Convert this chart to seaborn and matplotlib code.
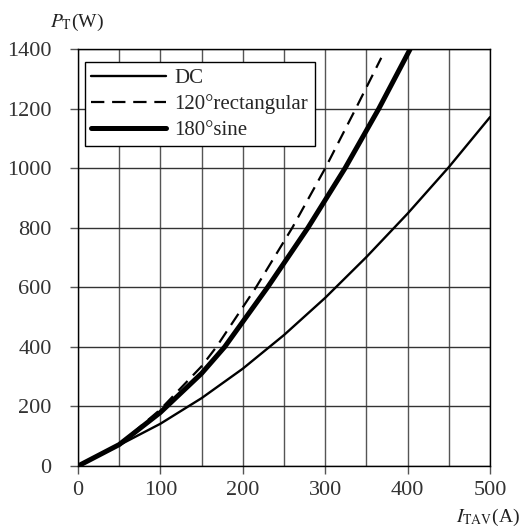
import numpy as np
import pandas as pd
import matplotlib
matplotlib.use("Agg")
import matplotlib.pyplot as plt
import seaborn as sns

# Values (I_TAV in A, P_T in W)
dc_i = [0, 50, 100, 150, 200, 250, 300, 350, 400, 450, 500]
dc_p = [0, 70, 142, 228, 327, 440, 565, 702, 848, 1004, 1172]

rect_i = [0, 50, 100, 150, 168, 216, 260, 300, 337, 368]
rect_p = [0, 72, 190, 335, 400, 600, 800, 1000, 1200, 1371]

sine_i = [0, 50, 100, 150, 178, 230, 279, 324, 365, 403]
sine_p = [0, 72, 180, 311, 400, 600, 800, 1000, 1200, 1400]

labels = ["DC", "120°rectangular", "180°sine"]

sns.set_theme(style="white")
plt.rcParams['font.family'] = ['Liberation Serif', 'DejaVu Serif']
plt.rcParams['mathtext.fontset'] = 'stix'

fig = plt.figure(figsize=(5.23, 5.29), dpi=100)
ax = fig.add_axes([0.149, 0.119, 0.788, 0.788])

sns.lineplot(x=dc_i, y=dc_p, ax=ax, color="black", linewidth=1.7, label=labels[0])
sns.lineplot(x=rect_i, y=rect_p, ax=ax, color="black", linewidth=1.6,
             linestyle=(0, (6, 3.5)), label=labels[1])
sns.lineplot(x=sine_i, y=sine_p, ax=ax, color="black", linewidth=3.6, label=labels[2])

ax.set_xlim(0, 500)
ax.set_ylim(0, 1400)
ax.set_xticks(np.arange(0, 501, 100))
ax.set_xticks(np.arange(50, 500, 100), minor=True)
ax.set_yticks(np.arange(0, 1401, 200))
ax.grid(True, which="both", axis="x", color="#555555", linewidth=1)
ax.grid(True, which="major", axis="y", color="#333333", linewidth=1)
ax.tick_params(which="major", direction="out", length=6, width=1, color="#555555",
               labelsize=16, labelcolor="#333333", bottom=True, left=True)
ax.tick_params(axis="x", which="major", pad=5)
ax.tick_params(axis="y", which="major", pad=13)
ax.tick_params(which="minor", length=0)
for s in ax.spines.values():
    s.set_color("black")
    s.set_linewidth(1)

ax.set_xlabel("")
ax.set_ylabel("")
fig.text(0.096, 0.958, r"$P_{\mathrm{T}}$(W)", fontsize=14, ha="left", va="center",
         color="#222222")
fig.text(0.995, 0.021, r"$I_{\mathrm{TAV}}$(A)", fontsize=14, ha="right", va="center",
         color="#222222")

leg = ax.legend(loc="upper left", bbox_to_anchor=(0.017, 0.969), fontsize=15,
                handlelength=3.6, labelspacing=0.3, borderpad=0.3,
                handletextpad=0.4, borderaxespad=0, fancybox=False,
                framealpha=1, edgecolor="black")
leg.get_frame().set_linewidth(1)

fig.savefig("out.png", dpi=100)
